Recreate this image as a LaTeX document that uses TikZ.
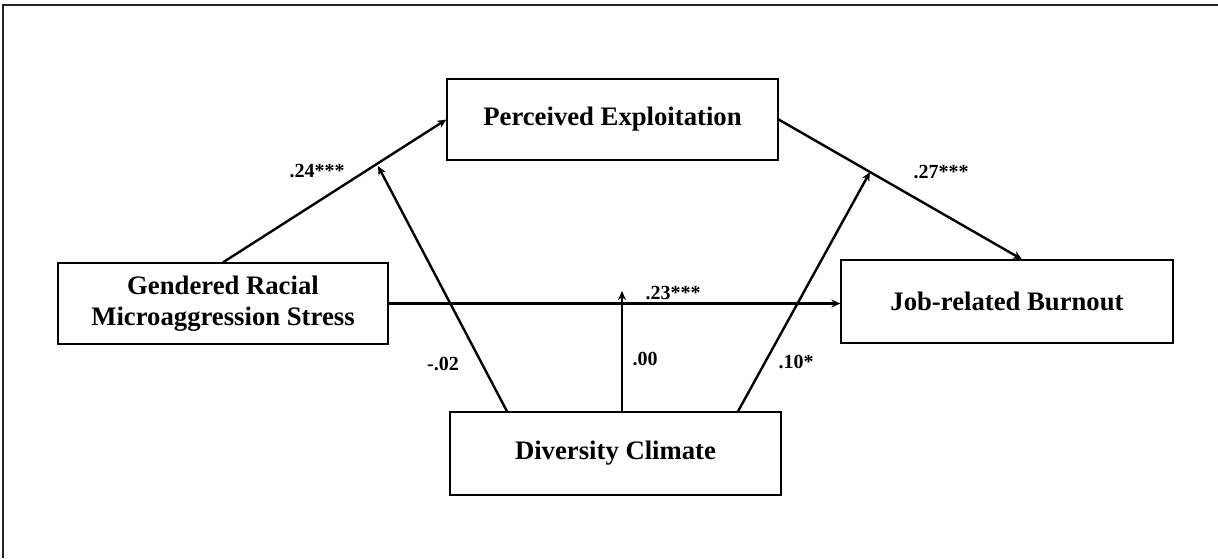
\documentclass[tikz,border=0pt]{standalone}
\usepackage{fontspec}
\setmainfont{Liberation Serif}
\usetikzlibrary{arrows.meta,calc}
\tikzset{
  box/.style={draw=black,line width=1.3pt,minimum height=81pt,minimum width=331pt,
    inner sep=0pt,font=\fontsize{26.7}{30.5}\selectfont\bfseries,align=center},
  conn/.style={draw=black,line width=2.4pt,-{Stealth[length=9pt,width=8pt]}},
  lab/.style={font=\fontsize{20}{22}\selectfont\bfseries,inner sep=0pt}}
\begin{document}
\begin{tikzpicture}[x=1pt,y=-1pt]
\useasboundingbox (0,0) rectangle (1218,558);
\draw[line width=1.5pt,black!85] (3,558) -- (3,5) -- (1218,5);
\node[box] (pe) at (612.5,119.5) {Perceived Exploitation};
\node[box,minimum width=330pt] (g) at (223,303.5) {Gendered Racial\\Microaggression Stress};
\node[box,minimum height=83pt] (dc) at (615.5,453.5) {Diversity Climate};
\node[box,minimum width=332pt,minimum height=83pt] (jb) at (1007,301.5) {Job-related Burnout};
\coordinate (m1) at (378,166);
\coordinate (m2) at (870,172);
\coordinate (m3) at (622,291);
\draw[conn] (g.north) -- (pe.west);
\draw[conn] (pe.east) -- ([xshift=15pt]jb.north);
\draw[conn] (g.east) -- (g.east -| jb.west);
\draw[conn] ([xshift=-108.5pt]dc.north) -- (m1);
\draw[conn] ([xshift=6.5pt]dc.north) -- (m3);
\draw[conn] ([xshift=122.5pt]dc.north) -- (m2);
\node[lab] (l1) at (317,171) {.24***};
\node[lab] (l2) at (941,172) {.27***};
\node[lab] (l3) at (673,293) {.23***};
\node[lab] (l4) at (443,364) {-.02};
\node[lab] (l5) at (645,359) {.00};
\node[lab] (l6) at (796,362) {.10*};
\end{tikzpicture}
\end{document}
